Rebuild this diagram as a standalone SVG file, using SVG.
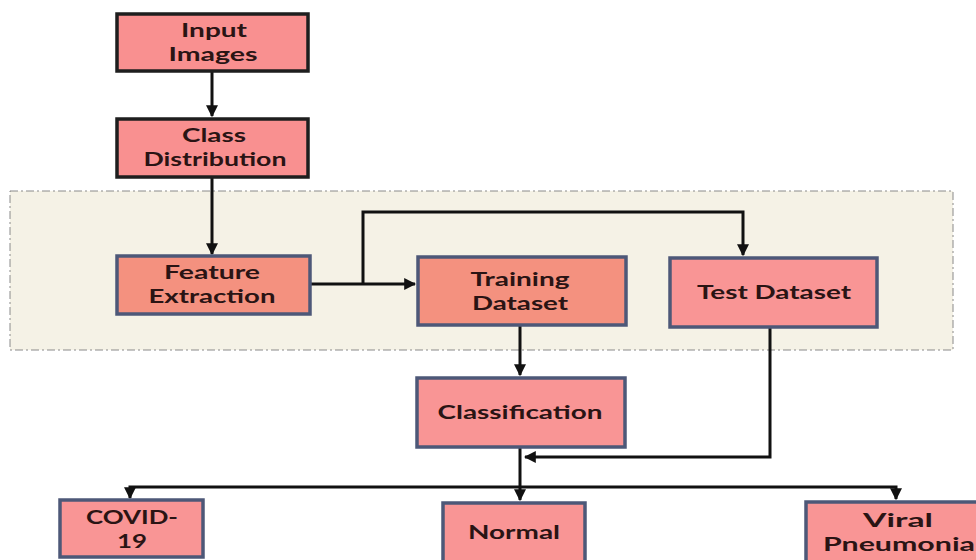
<svg xmlns="http://www.w3.org/2000/svg" width="976" height="560" viewBox="0 0 976 560">
<defs>
<marker id="ah" viewBox="0 0 10 10" refX="9" refY="5" markerWidth="4" markerHeight="4" orient="auto" markerUnits="strokeWidth">
<path d="M0,0 L10,5 L0,10 z" fill="#111"/>
</marker>
<style>
.t{font-family:Lato,"Open Sans","Liberation Sans",sans-serif;font-weight:bold;font-size:19px;fill:#2a1414;text-anchor:middle}
.n1{fill:#F99090;stroke:#1e1e1e;stroke-width:3.5}
.n2{fill:#F4917F;stroke:#4D5878;stroke-width:3.5}
.n3{fill:#F99595;stroke:#4D5878;stroke-width:3.5}
.c{fill:none;stroke:#111;stroke-width:3}
</style>
</defs>
<rect width="976" height="560" fill="#fff"/>
<rect x="10" y="191" width="943" height="159" fill="#F5F2E6" stroke="#8a8a8a" stroke-width="1" stroke-dasharray="8,3,2,3"/>
<g id="connectors">
<path class="c" d="M212,72 V116" marker-end="url(#ah)"/>
<path class="c" d="M212,177 V254" marker-end="url(#ah)"/>
<path class="c" d="M310,284 H415" marker-end="url(#ah)"/>
<path class="c" d="M363,284 V212 H743 V255" marker-end="url(#ah)"/>
<path class="c" d="M520,325 V375" marker-end="url(#ah)"/>
<path class="c" d="M770,327 V457 H525" marker-end="url(#ah)"/>
<path class="c" d="M520,447 V500" marker-end="url(#ah)"/>
<path class="c" d="M520,487 H130 V498" marker-end="url(#ah)"/>
<path class="c" d="M520,487 H896 V499" marker-end="url(#ah)"/>
</g>
<g id="input-images">
<rect class="n1" x="117" y="14" width="191" height="57"/>
<text class="t" x="214" y="37" textLength="66" lengthAdjust="spacingAndGlyphs">Input</text>
<text class="t" x="213" y="61" textLength="89" lengthAdjust="spacingAndGlyphs">Images</text>
</g>
<g id="class-distribution">
<rect class="n1" x="117" y="119" width="191" height="58"/>
<text class="t" x="214" y="142" textLength="64" lengthAdjust="spacingAndGlyphs">Class</text>
<text class="t" x="215" y="166" textLength="143" lengthAdjust="spacingAndGlyphs">Distribution</text>
</g>
<g id="feature-extraction">
<rect class="n2" x="117" y="256" width="193" height="58"/>
<text class="t" x="212" y="279" textLength="96" lengthAdjust="spacingAndGlyphs">Feature</text>
<text class="t" x="212" y="303" textLength="127" lengthAdjust="spacingAndGlyphs">Extraction</text>
</g>
<g id="training-dataset">
<rect class="n2" x="418" y="257" width="208" height="68"/>
<text class="t" x="520" y="286" textLength="99" lengthAdjust="spacingAndGlyphs">Training</text>
<text class="t" x="520" y="310" textLength="96" lengthAdjust="spacingAndGlyphs">Dataset</text>
</g>
<g id="test-dataset">
<rect class="n3" x="670" y="258" width="207" height="69"/>
<text class="t" x="774" y="299" textLength="154" lengthAdjust="spacingAndGlyphs">Test Dataset</text>
</g>
<g id="classification">
<rect class="n3" x="417" y="378" width="208" height="69"/>
<text class="t" x="520" y="419" textLength="165" lengthAdjust="spacingAndGlyphs">Classification</text>
</g>
<g id="covid-19">
<rect class="n3" x="60" y="500" width="143" height="57"/>
<text class="t" x="132" y="524" textLength="92" lengthAdjust="spacingAndGlyphs">COVID-</text>
<text class="t" x="132" y="548" textLength="30" lengthAdjust="spacingAndGlyphs">19</text>
</g>
<g id="normal">
<rect class="n3" x="443" y="503" width="142" height="60"/>
<text class="t" x="514" y="539" textLength="92" lengthAdjust="spacingAndGlyphs">Normal</text>
</g>
<g id="viral-pneumonia">
<rect class="n3" x="806" y="502" width="175" height="60"/>
<text class="t" x="898" y="527" textLength="70" lengthAdjust="spacingAndGlyphs">Viral</text>
<text class="t" x="899" y="551" textLength="152" lengthAdjust="spacingAndGlyphs">Pneumonia</text>
</g>
</svg>
